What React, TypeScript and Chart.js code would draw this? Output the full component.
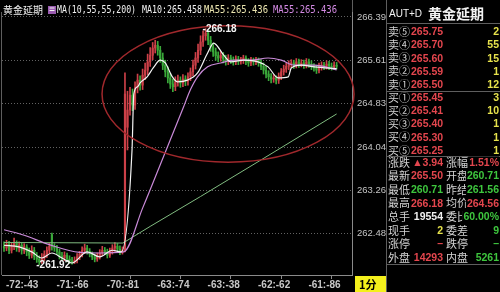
import { useEffect, useRef } from "react";
import { Chart, registerables } from "chart.js";

Chart.register(...registerables);

// ---- instrument / axis text ----
const instrument = "黄金延期";
const exchangeCode = "AUT+D";
const maSpec = "MA(10,55,55,200)";
const timeLabels = ["-72:-43", "-71:-66", "-70:-81", "-63:-74", "-63:-38", "-62:-62", "-61:-86"];
const priceTicks = [266.39, 265.61, 264.83, 264.04, 263.26, 262.48];

// ---- one-minute bars ----
const opens = [
  262.25, 262.22, 262.29, 262.18, 262.25, 262.31, 262.22, 262.27, 262.18, 262.24,
  262.15, 262.09, 262.18, 262.07, 262.02, 261.97, 262.04, 262.11, 262.18, 262.46,
  262.25, 262.22, 262.15, 262.07, 262.04, 262.09, 262.02, 261.98, 261.97, 262.00,
  262.06, 262.11, 262.18, 262.22, 262.16, 262.11, 262.06, 262.02, 262.07, 262.13,
  262.18, 262.15, 262.09, 262.16, 262.22, 262.25, 262.20, 262.15, 262.18, 264.40,
  264.71, 264.98, 264.80, 265.11, 265.25, 265.16, 265.34, 265.43, 265.58, 265.70,
  265.83, 265.88, 265.79, 265.65, 265.52, 265.40, 265.29, 265.18, 265.13, 265.22,
  265.25, 265.20, 265.27, 265.23, 265.31, 265.40, 265.52, 265.65, 265.79, 265.94,
  266.05, 266.10, 265.97, 265.85, 265.76, 265.69, 265.65, 265.70, 265.63, 265.59,
  265.65, 265.61, 265.58, 265.63, 265.59, 265.61, 265.65, 265.59, 265.56, 265.61,
  265.58, 265.61, 265.56, 265.50, 265.43, 265.36, 265.31, 265.27, 265.29, 265.25,
  265.32, 265.40, 265.45, 265.50, 265.54, 265.56, 265.52, 265.58, 265.54, 265.56,
  265.52, 265.58, 265.54, 265.50, 265.47, 265.43, 265.49, 265.52, 265.50, 265.54,
  265.50, 265.49, 265.52,
];
const highs = [
  262.33, 262.36, 262.34, 262.31, 262.40, 262.35, 262.33, 262.31, 262.30, 262.28,
  262.22, 262.26, 262.23, 262.14, 262.08, 262.12, 262.17, 262.24, 262.31, 262.49,
  262.30, 262.27, 262.20, 262.14, 262.15, 262.13, 262.08, 262.05, 262.06, 262.12,
  262.16, 262.24, 262.29, 262.27, 262.21, 262.15, 262.11, 262.13, 262.19, 262.25,
  262.23, 262.20, 262.22, 262.28, 262.32, 262.30, 262.26, 262.24, 265.38, 265.05,
  265.12, 265.09, 265.22, 265.36, 265.33, 265.45, 265.56, 265.72, 265.84, 265.93,
  265.97, 265.95, 265.86, 265.74, 265.61, 265.49, 265.37, 265.27, 265.31, 265.34,
  265.31, 265.35, 265.33, 265.38, 265.47, 265.61, 265.75, 265.90, 266.05, 266.14,
  266.18, 266.15, 266.04, 265.92, 265.83, 265.76, 265.77, 265.75, 265.70, 265.71,
  265.70, 265.67, 265.69, 265.68, 265.66, 265.70, 265.69, 265.64, 265.66, 265.65,
  265.66, 265.65, 265.62, 265.56, 265.50, 265.42, 265.37, 265.35, 265.33, 265.38,
  265.46, 265.52, 265.56, 265.60, 265.62, 265.61, 265.64, 265.63, 265.62, 265.61,
  265.64, 265.63, 265.60, 265.55, 265.52, 265.56, 265.58, 265.57, 265.60, 265.59,
  265.56, 265.58, 265.57,
];
const lows = [
  262.16, 262.17, 262.12, 262.13, 262.19, 262.16, 262.15, 262.11, 262.12, 262.08,
  262.03, 262.04, 262.01, 261.96, 261.92, 261.94, 261.99, 262.05, 262.12, 262.18,
  262.16, 262.10, 262.02, 261.99, 261.99, 261.97, 261.94, 261.93, 261.94, 261.95,
  262.01, 262.06, 262.12, 262.11, 262.06, 262.01, 261.97, 261.98, 262.02, 262.08,
  262.10, 262.04, 262.05, 262.11, 262.16, 262.15, 262.10, 262.11, 262.15, 263.99,
  264.62, 264.70, 264.72, 265.02, 265.07, 265.08, 265.26, 265.35, 265.50, 265.62,
  265.74, 265.70, 265.57, 265.44, 265.31, 265.20, 265.10, 265.04, 265.06, 265.14,
  265.12, 265.13, 265.15, 265.16, 265.24, 265.33, 265.45, 265.57, 265.71, 265.86,
  265.97, 265.89, 265.77, 265.68, 265.61, 265.58, 265.59, 265.56, 265.52, 265.53,
  265.55, 265.52, 265.53, 265.53, 265.54, 265.55, 265.53, 265.50, 265.51, 265.52,
  265.53, 265.50, 265.44, 265.36, 265.29, 265.24, 265.20, 265.21, 265.18, 265.19,
  265.26, 265.34, 265.39, 265.44, 265.48, 265.46, 265.47, 265.48, 265.49, 265.46,
  265.47, 265.48, 265.44, 265.41, 265.37, 265.38, 265.43, 265.44, 265.45, 265.44,
  265.43, 265.44, 265.45,
];
const closes = [
  262.22, 262.29, 262.18, 262.25, 262.31, 262.22, 262.27, 262.18, 262.24, 262.15,
  262.09, 262.18, 262.07, 262.02, 261.97, 262.04, 262.11, 262.18, 262.25, 262.25,
  262.22, 262.15, 262.07, 262.04, 262.09, 262.02, 261.98, 261.97, 262.00, 262.06,
  262.11, 262.18, 262.22, 262.16, 262.11, 262.06, 262.02, 262.07, 262.13, 262.18,
  262.15, 262.09, 262.16, 262.22, 262.25, 262.20, 262.15, 262.18, 265.00, 264.71,
  264.98, 264.80, 265.11, 265.25, 265.16, 265.34, 265.43, 265.58, 265.70, 265.83,
  265.88, 265.79, 265.65, 265.52, 265.40, 265.29, 265.18, 265.13, 265.22, 265.25,
  265.20, 265.27, 265.23, 265.31, 265.40, 265.52, 265.65, 265.79, 265.94, 266.05,
  266.10, 265.97, 265.85, 265.76, 265.69, 265.65, 265.70, 265.63, 265.59, 265.65,
  265.61, 265.58, 265.63, 265.59, 265.61, 265.65, 265.59, 265.56, 265.61, 265.58,
  265.61, 265.56, 265.50, 265.43, 265.36, 265.31, 265.27, 265.29, 265.25, 265.32,
  265.40, 265.45, 265.50, 265.54, 265.56, 265.52, 265.58, 265.54, 265.56, 265.52,
  265.58, 265.54, 265.50, 265.47, 265.43, 265.49, 265.52, 265.50, 265.54, 265.50,
  265.49, 265.52, 265.50,
];

// ---- moving averages: [bar index, price] ----
const ma10: [number, number][] = [
  [0, 262.27], [6, 262.24], [11, 262.15], [15, 262.04], [19, 262.13], [23, 262.04],
  [27, 261.95], [33, 262.15], [38, 262.06], [43, 262.18], [46.5, 262.15], [50.8, 263.99],
  [51.5, 265.0], [53, 265.13], [54, 265.2], [56.8, 265.31], [59.2, 265.47], [62, 265.61],
  [64, 265.56], [66.8, 265.31], [68.8, 265.22], [72.8, 265.25], [76.8, 265.38],
  [80.8, 265.74], [83.2, 265.92], [87.2, 265.7], [90, 265.58], [95.2, 265.61],
  [100.8, 265.58], [104.8, 265.49], [108.8, 265.29], [112.8, 265.31], [114, 265.47],
  [118, 265.52], [123.2, 265.49], [132, 265.458],
];
const ma55: [number, number][] = [
  [0, 262.55], [8, 262.45], [18, 262.28], [30, 262.14], [38, 262.13], [47.5, 262.15],
  [55, 262.94], [63.2, 263.86], [71.2, 264.76], [74, 265.08], [76.8, 265.31],
  [80.8, 265.49], [86, 265.56], [91.2, 265.61], [98, 265.61], [104.8, 265.65],
  [110, 265.61], [115.2, 265.52], [123.2, 265.52], [132, 265.436],
];
const ma200: [number, number][] = [
  [0, 262.32], [47.2, 262.31], [58, 262.61], [78, 263.15], [102, 263.81], [132, 264.64],
];

// ---- quote panel ----
const askLabels = ["卖⑤", "卖④", "卖③", "卖②", "卖①"];
const askPrices = [265.75, 265.7, 265.6, 265.59, 265.5];
const askVolumes = [2, 55, 15, 1, 12];
const bidLabels = ["买①", "买②", "买③", "买④", "买⑤"];
const bidPrices = [265.45, 265.41, 265.4, 265.3, 265.25];
const bidVolumes = [3, 10, 1, 1, 1];
const statLeftLabels = ["涨跌", "最新", "最低", "最高", "总手", "现手", "涨停", "外盘"];
const statLeftValues = ["▲3.94", "265.50", "260.71", "266.18", "19554", "2", "–", "14293"];
const statLeftTones = ["up", "up", "down", "up", "plain", "vol", "up", "up"];
const statRightLabels = ["涨幅", "开盘", "昨结", "均价", "委比", "委差", "跌停", "内盘"];
const statRightValues = ["1.51%", "260.71", "261.56", "264.56", "60.00%", "9", "–", "5261"];
const statRightTones = ["up", "down", "down", "up", "down", "down", "down", "down"];
const periodLabel = "1分";

// circled zone around the afternoon consolidation (bar index / price units)
const focusRing = { cx: 88.9, cy: 265.0, rx: 50, ry: 1.23 };

const UP = "#e4464e";
const DOWN = "#3ec63e";
const BAR_UP = "#cc4048";
const BAR_DOWN = "#3aa83a";
const VOL = "#e6e24c";
const LABEL = "#d2d2d2";
const RULE = "#5e5e5e";
const toneColor: Record<string, string> = { up: UP, down: DOWN, vol: VOL, plain: "#f0f0f0" };

const CJK = '"Noto Sans CJK SC", sans-serif';
const SANS = '"Liberation Sans", Arial, sans-serif';
const MONO = '"DejaVu Sans Mono", "Liberation Mono", monospace';

const backdrop = {
  id: "backdrop",
  beforeDraw(chart: any) {
    const c = chart.ctx;
    c.save();
    c.fillStyle = "#000";
    c.fillRect(0, 0, chart.width, chart.height);
    c.restore();
  },
};

const overlays = {
  id: "overlays",
  afterDatasetsDraw(chart: any) {
    const c = chart.ctx;
    const xs = chart.scales.x;
    const ys = chart.scales.y;
    c.save();
    // highlight ring
    const cx = xs.getPixelForValue(focusRing.cx);
    const cy = ys.getPixelForValue(focusRing.cy);
    const rx = xs.getPixelForValue(focusRing.cx + focusRing.rx) - cx;
    const ry = cy - ys.getPixelForValue(focusRing.cy + focusRing.ry);
    c.beginPath();
    c.ellipse(cx, cy, rx, ry, 0, 0, Math.PI * 2);
    c.strokeStyle = "#a0282c";
    c.lineWidth = 1.5;
    c.stroke();

    // session extremes
    let hi = 0;
    let lo = 0;
    highs.forEach((h, i) => { if (h > highs[hi]) hi = i; });
    lows.forEach((l, i) => { if (l < lows[lo]) lo = i; });
    c.font = `bold 10px ${SANS}`;
    c.fillStyle = "#f4f4f4";
    c.textAlign = "left";
    c.textBaseline = "middle";
    c.fillText("-" + highs[hi].toFixed(2), xs.getPixelForValue(hi) - 3, ys.getPixelForValue(highs[hi]) + 1);
    c.fillText("-" + lows[lo].toFixed(2), xs.getPixelForValue(lo) - 3, ys.getPixelForValue(lows[lo]) + 1);
    c.restore();
  },
  afterDraw(chart: any) {
    const c = chart.ctx;
    const area = chart.chartArea;
    c.save();
    c.textBaseline = "middle";

    // frame rules
    c.strokeStyle = RULE;
    c.lineWidth = 1;
    const rule = (x1: number, y1: number, x2: number, y2: number) => {
      c.beginPath();
      c.moveTo(x1, y1);
      c.lineTo(x2, y2);
      c.stroke();
    };
    rule(386.5, 0, 386.5, 292);
    rule(area.right + 0.5, 0, area.right + 0.5, area.top);
    rule(1.5, area.top, 1.5, area.bottom);
    [23.5, 91.5, 156.5, 264.5].forEach((y) => rule(387, y, 500, y));

    // chart title line
    c.textAlign = "left";
    c.font = `10px ${CJK}`;
    c.fillStyle = "#f2f2f2";
    c.fillText(instrument, 3, 10);
    c.fillStyle = "#9a5cb0";
    c.fillRect(48, 6, 8, 8);
    c.fillStyle = "#f2f2f2";
    c.fillRect(49.5, 7.5, 5, 1);
    c.fillRect(49.5, 10, 5, 1);
    c.font = `10.5px ${MONO}`;
    c.fillText(maSpec, 57, 10.5, 79);
    c.fillText(`MA10:${ma10[ma10.length - 1][1].toFixed(3)}`, 142, 10.5, 60);
    c.fillStyle = "#ece6b0";
    c.fillText(`MA55:${ma55[ma55.length - 1][1].toFixed(3)}`, 204, 10.5, 64);
    c.fillStyle = "#d48ae4";
    c.fillText(`MA55:${ma55[ma55.length - 1][1].toFixed(3)}`, 273, 10.5, 64);

    // panel header
    c.fillStyle = "#f2f2f2";
    c.font = `10px ${SANS}`;
    c.fillText(exchangeCode, 389, 14.5);
    c.font = `bold 14px ${CJK}`;
    c.fillText(instrument, 428, 14);

    // order book
    const bookRow = (label: string, price: number, vol: number, y: number) => {
      c.textAlign = "left";
      c.font = `11px ${CJK}`;
      c.fillStyle = LABEL;
      c.fillText(label, 388, y);
      c.font = `bold 10.5px ${SANS}`;
      c.fillStyle = UP;
      c.fillText(price.toFixed(2), 411, y + 0.5);
      c.textAlign = "right";
      c.fillStyle = VOL;
      c.fillText(String(vol), 499, y + 0.5);
    };
    askLabels.forEach((lab, k) => bookRow(lab, askPrices[k], askVolumes[k], 32 + 13.1 * k));
    bidLabels.forEach((lab, k) => bookRow(lab, bidPrices[k], bidVolumes[k], 97.5 + 13.25 * k));

    // statistics
    statLeftLabels.forEach((lab, k) => {
      const y = 162.5 + 13.57 * k;
      c.textAlign = "left";
      c.font = `11px ${CJK}`;
      c.fillStyle = LABEL;
      c.fillText(lab, 388, y);
      c.fillText(statRightLabels[k], 446, y);
      c.font = `bold 10.5px ${SANS}`;
      c.textAlign = "right";
      c.fillStyle = toneColor[statLeftTones[k]];
      c.fillText(statLeftValues[k], 443, y + 0.5);
      const w = c.measureText(statRightValues[k]).width;
      c.fillStyle = "#000";
      c.fillRect(499 - w - 1, y - 6, w + 1, 12);
      c.fillStyle = toneColor[statRightTones[k]];
      c.fillText(statRightValues[k], 499, y + 0.5);
    });

    // period tag
    c.fillStyle = "#f4f01c";
    c.fillRect(355, 276, 31, 16);
    c.fillStyle = "#000";
    c.textAlign = "left";
    c.font = `bold 11px ${CJK}`;
    c.fillText(periodLabel, 359, 284.5);
    c.restore();
  },
};

export default function App() {
  const canvasRef = useRef<HTMLCanvasElement | null>(null);

  useEffect(() => {
    const canvas = canvasRef.current;
    if (!canvas) return;
    const barColors = closes.map((cl, i) => (cl >= opens[i] ? BAR_UP : BAR_DOWN));

    const chart = new Chart(canvas, {
      type: "bar",
      data: {
        datasets: [
          {
            type: "line",
            label: "MA10",
            data: ma10.map(([x, y]) => ({ x, y })),
            borderColor: "#f4f4f4",
            borderWidth: 1.2,
            pointRadius: 0,
            cubicInterpolationMode: "monotone",
            fill: false,
            order: 0,
          },
          {
            type: "line",
            label: "MA55",
            data: ma55.map(([x, y]) => ({ x, y })),
            borderColor: "#c98ad8",
            borderWidth: 1.2,
            pointRadius: 0,
            cubicInterpolationMode: "monotone",
            fill: false,
            order: 1,
          },
          {
            type: "line",
            label: "MA200",
            data: ma200.map(([x, y]) => ({ x, y })),
            borderColor: "#80bc80",
            borderWidth: 1,
            pointRadius: 0,
            tension: 0,
            fill: false,
            order: 2,
          },
          {
            type: "bar",
            label: "body",
            data: opens.map((o, i) => ({ x: i, y: [o, closes[i]] })),
            backgroundColor: barColors,
            borderWidth: 0,
            barThickness: 1.5,
            grouped: false,
            order: 3,
          },
          {
            type: "bar",
            label: "range",
            data: lows.map((l, i) => ({ x: i, y: [l, highs[i]] })),
            backgroundColor: barColors,
            borderWidth: 0,
            barThickness: 1,
            grouped: false,
            order: 4,
          },
        ] as any,
      },
      options: {
        responsive: false,
        animation: false,
        devicePixelRatio: 1,
        events: [],
        layout: { padding: { left: 2, top: 12, right: 114, bottom: 0 } },
        plugins: { legend: { display: false }, tooltip: { enabled: false } },
        scales: {
          x: {
            type: "linear",
            min: -0.8,
            max: 138.1,
            offset: false,
            position: "bottom",
            afterBuildTicks: (s: any) => {
              s.ticks = timeLabels.map((_, k) => ({ value: k * 20 }));
            },
            afterFit: (s: any) => {
              s.height = 17;
            },
            ticks: {
              autoSkip: false,
              maxRotation: 0,
              align: "start",
              labelOffset: 2,
              padding: 0,
              color: "#c8c8c8",
              font: { family: SANS, size: 10, weight: "bold" },
              callback: (_v: any, i: number) => timeLabels[i],
            },
            grid: { display: true, drawOnChartArea: false, drawTicks: true, tickLength: 4, color: "#8a8a8a" },
            border: { display: true, color: "#8a8a8a" },
          },
          y: {
            type: "linear",
            position: "right",
            min: 261.733,
            max: 266.48,
            afterBuildTicks: (s: any) => {
              s.ticks = priceTicks.map((v) => ({ value: v }));
            },
            afterFit: (s: any) => {
              s.width = 34;
            },
            ticks: {
              color: "#c4c4c4",
              padding: 5,
              font: { family: SANS, size: 9.5 },
              callback: (v: any) => Number(v).toFixed(2),
            },
            grid: { color: "#626262", drawTicks: false, lineWidth: 1 },
            border: { display: true, color: "#8a8a8a", dash: [1, 2] },
          },
        },
      } as any,
      plugins: [backdrop, overlays],
    });

    return () => chart.destroy();
  }, []);

  return (
    <div style={{ position: "fixed", left: 0, top: 0, width: 500, height: 292, background: "#000" }}>
      <canvas ref={canvasRef} width={500} height={292} style={{ display: "block" }} />
    </div>
  );
}
